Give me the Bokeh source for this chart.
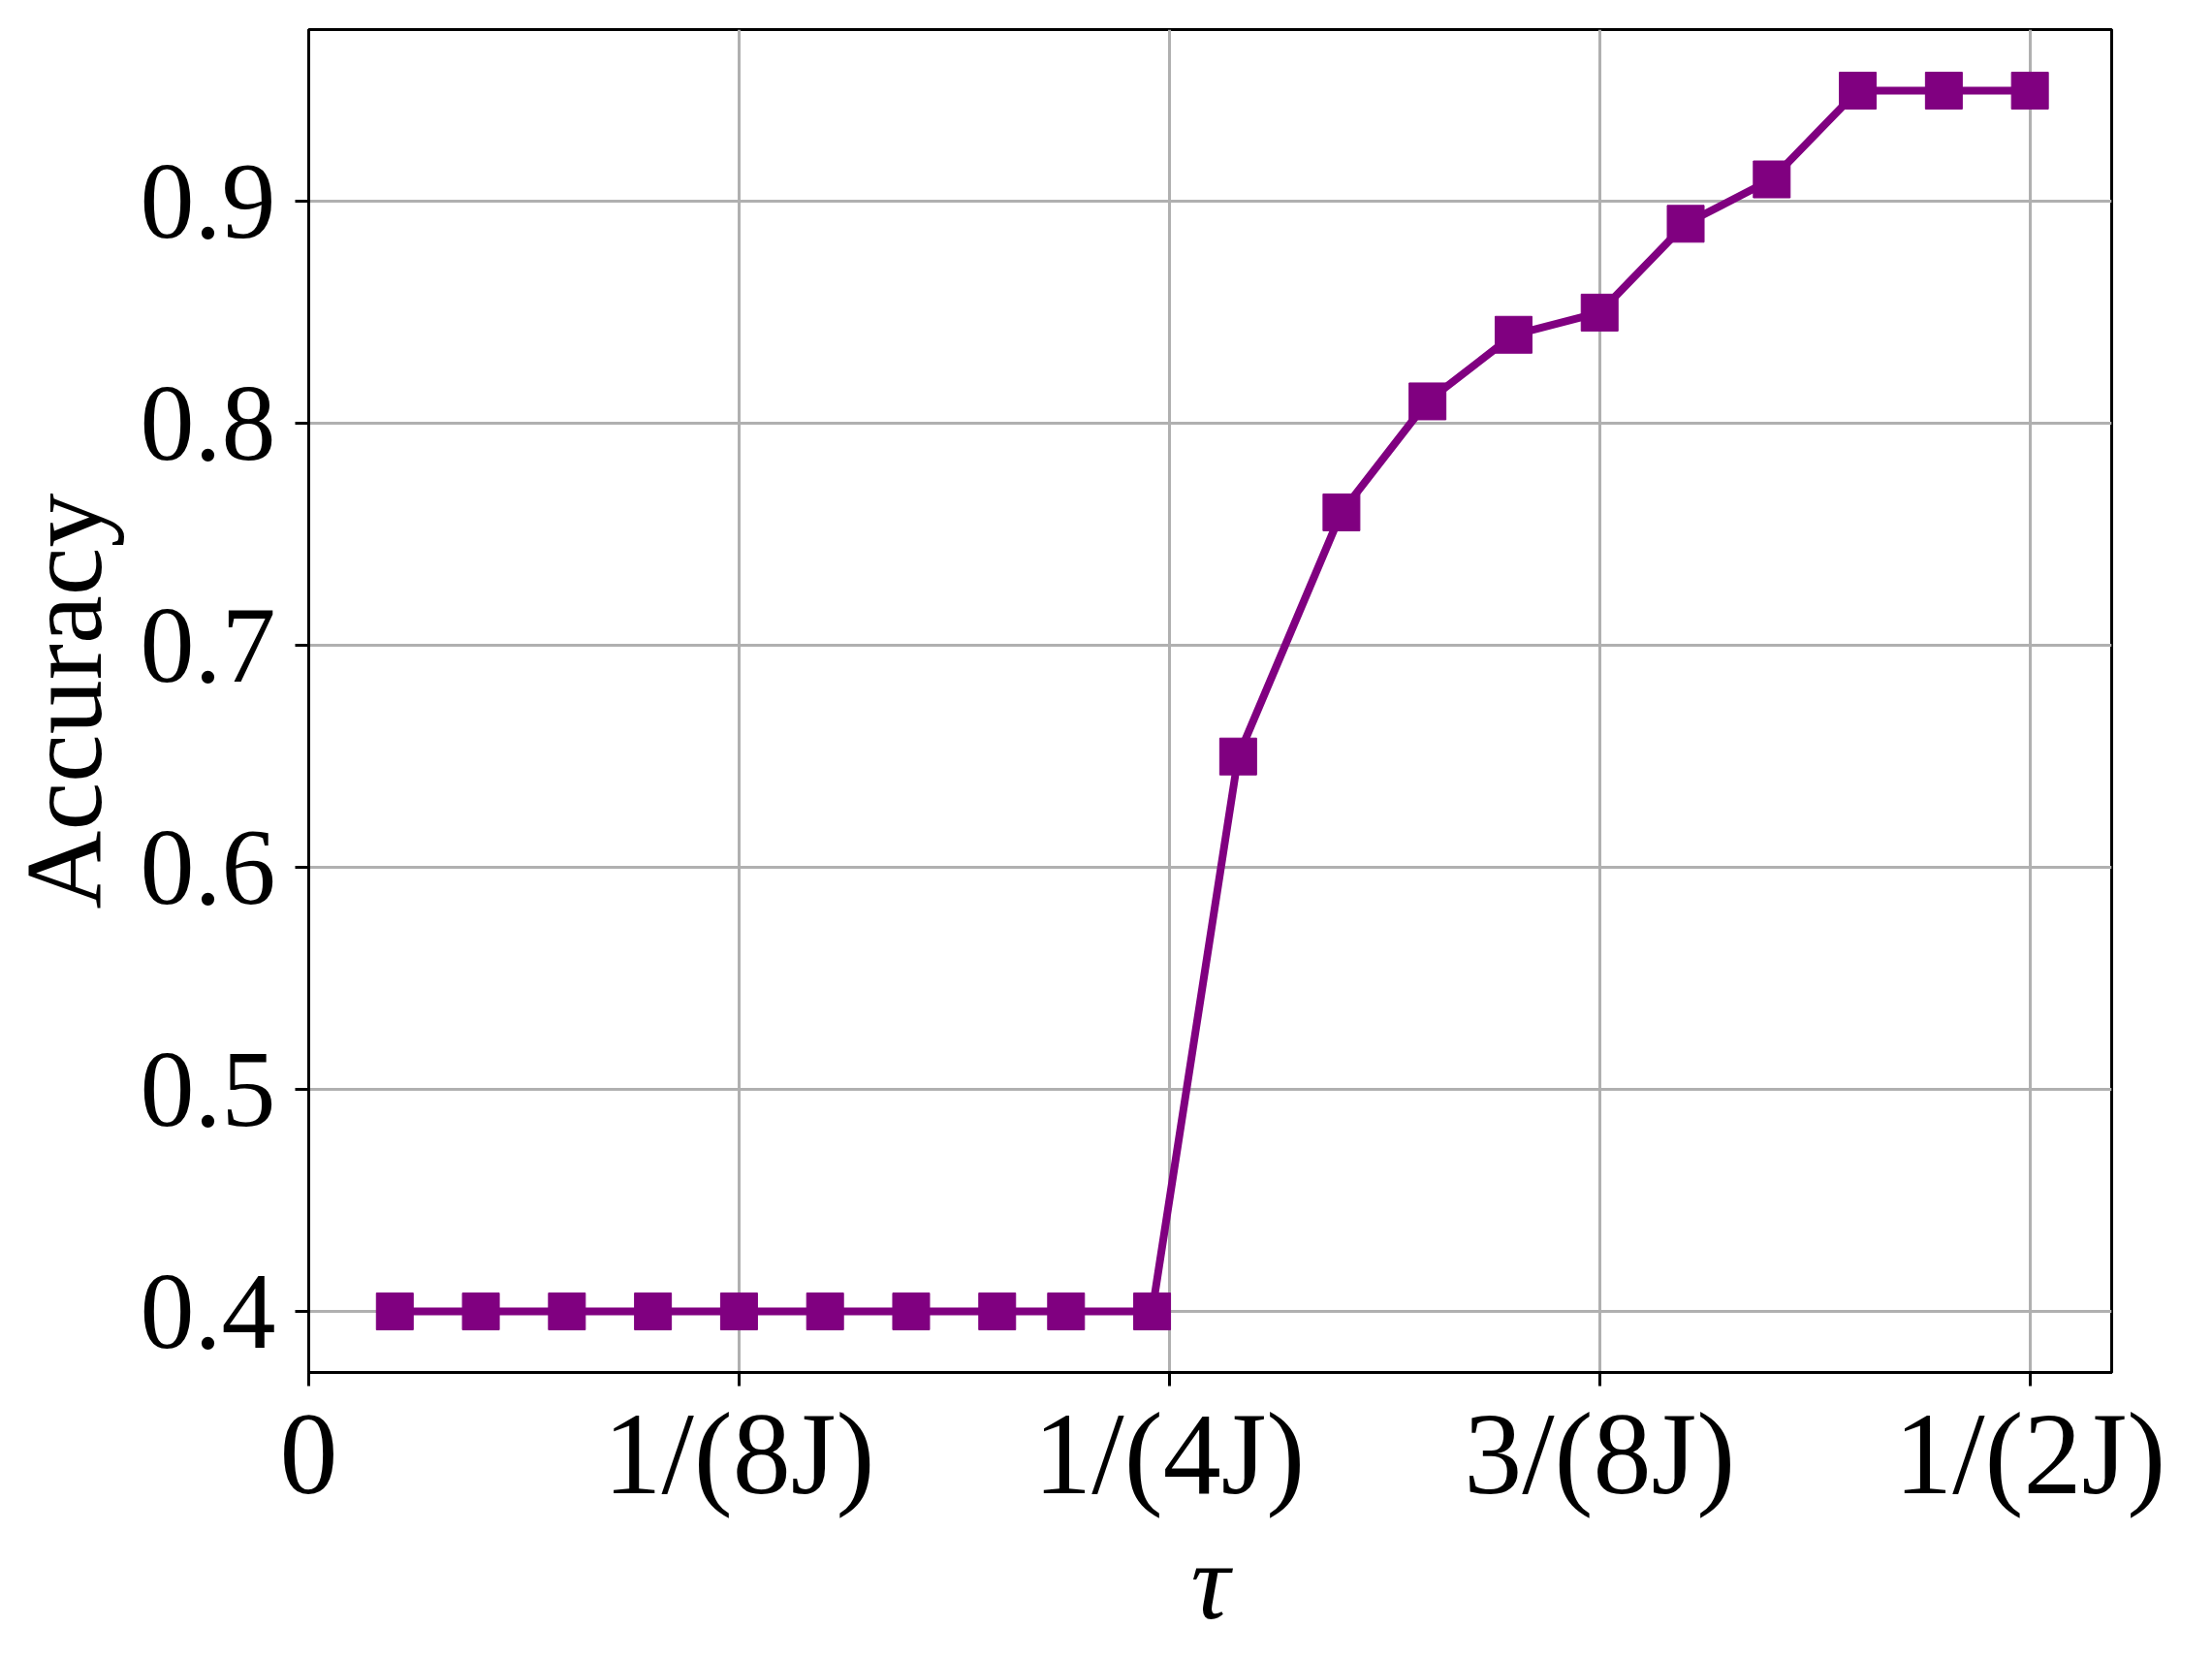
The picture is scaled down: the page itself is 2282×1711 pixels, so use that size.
from bokeh.plotting import figure
from bokeh.models import FixedTicker, Range1d, ColumnDataSource
from bokeh.embed import file_html
from bokeh.resources import INLINE

# tau in units where J = 1
tau = [0.025, 0.05, 0.075, 0.1, 0.125, 0.15, 0.175, 0.2, 0.22, 0.245,
       0.27, 0.3, 0.325, 0.35, 0.375, 0.4, 0.425, 0.45, 0.475, 0.5]
accuracy = [0.40, 0.40, 0.40, 0.40, 0.40, 0.40, 0.40, 0.40, 0.40, 0.40,
            0.65, 0.76, 0.81, 0.84, 0.85, 0.89, 0.91, 0.95, 0.95, 0.95]
x_ticks = [0, 0.125, 0.25, 0.375, 0.5]
x_tick_labels = ["0", "1/(8J)", "1/(4J)", "3/(8J)", "1/(2J)"]
y_ticks = [0.4, 0.5, 0.6, 0.7, 0.8, 0.9]
y_tick_labels = ["0.4", "0.5", "0.6", "0.7", "0.8", "0.9"]

FONT = "Liberation Serif"
PURPLE = "#800080"

src = ColumnDataSource(data=dict(x=tau, y=accuracy))

p = figure(width=2266, height=1695, output_backend="svg", toolbar_location=None,
           x_range=Range1d(0, 0.52375), y_range=Range1d(0.3725, 0.9775),
           min_border_left=309, min_border_right=88, min_border_top=30,
           min_border_bottom=280)
p.background_fill_color = "white"
p.border_fill_color = "white"
p.outline_line_color = "black"
p.outline_line_width = 3

p.line("x", "y", source=src, line_color=PURPLE, line_width=8)
p.scatter("x", "y", source=src, marker="square", size=38,
          fill_color=PURPLE, line_color=PURPLE)

p.xaxis.ticker = FixedTicker(ticks=x_ticks)
p.xaxis.major_label_overrides = {t: l for t, l in zip(x_ticks, x_tick_labels)}
p.yaxis.ticker = FixedTicker(ticks=y_ticks)
p.yaxis.major_label_overrides = {t: l for t, l in zip(y_ticks, y_tick_labels)}

for ax in (p.xaxis[0], p.yaxis[0]):
    ax.major_label_text_font = FONT
    ax.major_label_text_font_size = "112px"
    ax.major_label_text_color = "black"
    ax.axis_label_text_font = FONT
    ax.axis_label_text_font_size = "112px"
    ax.axis_label_text_font_style = "normal"
    ax.axis_label_text_color = "black"
    ax.axis_line_color = "black"
    ax.axis_line_width = 3
    ax.major_tick_line_color = "black"
    ax.major_tick_line_width = 3
    ax.major_tick_out = 14
    ax.major_tick_in = 0
    ax.minor_tick_line_color = None
    ax.major_label_standoff = 20

p.xaxis.major_label_text_font_size = "120px"
p.xaxis.major_label_standoff = 3
p.xaxis.axis_label = "τ"
p.xaxis.axis_label_text_font_style = "italic"
p.xaxis.axis_label_standoff = 0
p.yaxis.axis_label = "Accuracy"
p.yaxis.axis_label_standoff = 14

p.grid.grid_line_color = "#b0b0b0"
p.grid.grid_line_width = 3

open("out.html", "w").write(file_html(p, INLINE))
